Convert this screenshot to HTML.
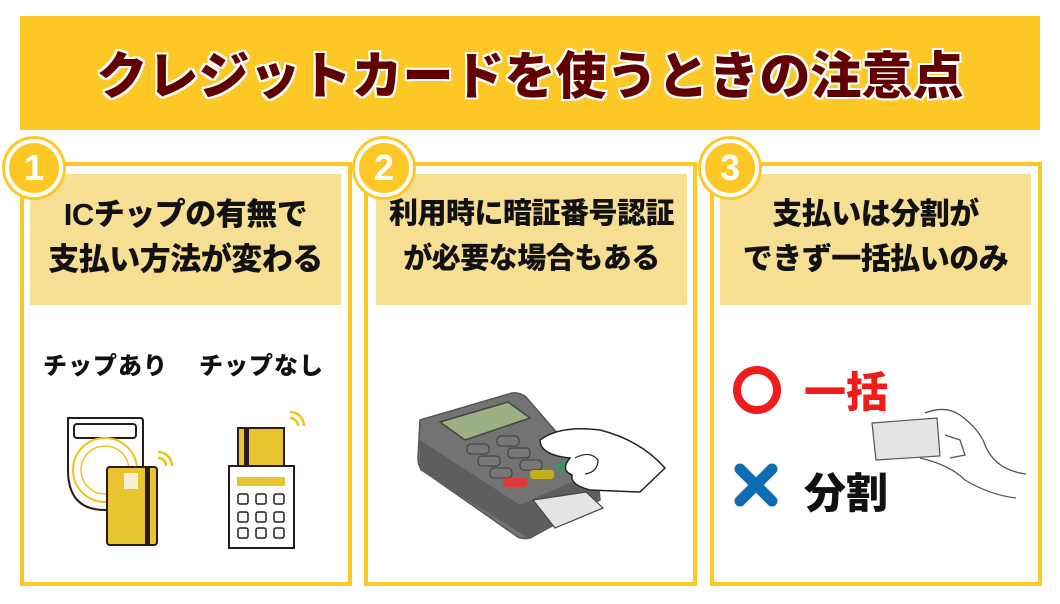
<!DOCTYPE html>
<html><head><meta charset="utf-8"><style>
*{margin:0;padding:0;box-sizing:border-box}
body{width:1060px;height:604px;background:#fff;position:relative;overflow:hidden;font-family:"Liberation Sans","Noto Sans CJK JP",sans-serif}
.hdr{position:absolute;left:20px;top:16px;width:1020px;height:114px;background:#fdc826}
.ttl{position:absolute;left:20px;top:42px;width:1020px;text-align:center;font-size:51px;line-height:70px;font-weight:900;color:#620000;text-shadow:0 0 2px #fff,2px 0 0 #fff,-2px 0 0 #fff,0 2px 0 #fff,0 -2px 0 #fff,2px 2px 0 #fff,-2px -2px 0 #fff,2px -2px 0 #fff,-2px 2px 0 #fff}
.pn{position:absolute;top:162px;height:424px;border:4px solid #fdc826}
.tan{position:absolute;top:174px;height:131px;background:#f6de93;display:flex;flex-direction:column;justify-content:center;align-items:center;text-align:center;font-weight:900;color:#111;line-height:45px;letter-spacing:-0.5px;padding-bottom:6px}
.bd{position:absolute;width:58px;height:58px;border-radius:50%;background:#fdc826;border:4px solid #fff;box-shadow:0 0 0 3px #fdc826;color:#fff;font-weight:900;font-size:36px;text-align:center;line-height:50px}
.lb{position:absolute;font-weight:900;font-size:24px;color:#111;letter-spacing:1px}
</style></head><body>
<div class="hdr"></div>
<div class="ttl">クレジットカードを使うときの注意点</div>

<div class="pn" style="left:20px;width:332px"></div>
<div class="pn" style="left:364px;width:333px"></div>
<div class="pn" style="left:710px;width:332px"></div>

<div class="tan" style="left:30px;width:311px;font-size:31px">ICチップの有無で<br>支払い方法が変わる</div>
<div class="tan" style="left:376px;width:311px;font-size:29px">利用時に暗証番号認証<br>が必要な場合もある</div>
<div class="tan" style="left:720px;width:311px;font-size:30px">支払いは分割が<br>できず一括払いのみ</div>

<div class="bd" style="left:5px;top:139px">1</div>
<div class="bd" style="left:355px;top:139px">2</div>
<div class="bd" style="left:701px;top:139px">3</div>

<div class="lb" style="left:43px;top:346px">チップあり</div>
<div class="lb" style="left:199px;top:346px">チップなし</div>

<svg style="position:absolute;left:0;top:0" width="1060" height="604">
<path d="M68 418 H140 Q143 418 143 421 V470 Q143 510 105 510 Q68 510 68 470 Z" fill="#fff" stroke="#2a1a1a" stroke-width="2"/>
<rect x="74" y="424" width="62" height="14" rx="3" fill="#fff" stroke="#2a1a1a" stroke-width="2"/>
<circle cx="105" cy="470" r="32" fill="none" stroke="#f0c21a" stroke-width="2"/>
<circle cx="105" cy="470" r="24" fill="none" stroke="#f0c21a" stroke-width="1.5"/>
<rect x="107" y="467" width="50" height="78" rx="3" fill="#e8c431" stroke="#2a1a1a" stroke-width="2"/>
<rect x="145" y="467" width="5" height="78" fill="#2a1a1a"/>
<rect x="124" y="473" width="14" height="16" fill="#f7efcf"/>
<path d="M158 458 a8 8 0 0 1 8 8 M158 452 a14 14 0 0 1 14 14" fill="none" stroke="#f0c21a" stroke-width="2.5"/>
<rect x="238" y="428" width="46" height="38" fill="#e8c431" stroke="#2a1a1a" stroke-width="2"/>
<rect x="244" y="428" width="5" height="38" fill="#2a1a1a"/>
<rect x="229" y="466" width="65" height="82" fill="#fff" stroke="#2a1a1a" stroke-width="2"/>
<rect x="237" y="477" width="48" height="9" fill="#e8c431"/>
<g fill="#fff" stroke="#2a1a1a" stroke-width="1.5">
<rect x="238" y="494" width="10" height="10" rx="2"/><rect x="256" y="494" width="10" height="10" rx="2"/><rect x="274" y="494" width="10" height="10" rx="2"/>
<rect x="238" y="512" width="10" height="10" rx="2"/><rect x="256" y="512" width="10" height="10" rx="2"/><rect x="274" y="512" width="10" height="10" rx="2"/>
<rect x="238" y="528" width="10" height="10" rx="2"/><rect x="256" y="528" width="10" height="10" rx="2"/><rect x="274" y="528" width="10" height="10" rx="2"/>
</g>
<path d="M290 418 a8 8 0 0 1 8 8 M290 412 a14 14 0 0 1 14 14" fill="none" stroke="#f0c21a" stroke-width="2.5"/>
<path d="M420 420 L512 393 Q520 392 526 397 L598 480 L600 500 L530 538 Q520 540 515 535 L422 470 Q418 466 418 458 Z" fill="#737373" stroke="#555" stroke-width="1.5"/>
<path d="M420 440 L520 505 L598 470 L598 500 L528 538 L420 470Z" fill="#5e5e5e"/>
<path d="M440 422 L508 402 L530 418 L465 440Z" fill="#9cb083" stroke="#444" stroke-width="1.5"/>
<g fill="#777" stroke="#444" stroke-width="1.2">
<rect x="467" y="444" width="22" height="10" rx="4"/><rect x="497" y="436" width="22" height="10" rx="4"/>
<rect x="478" y="456" width="22" height="10" rx="4"/><rect x="508" y="448" width="22" height="10" rx="4"/>
<rect x="490" y="468" width="22" height="10" rx="4"/><rect x="520" y="460" width="22" height="10" rx="4"/>
</g>
<rect x="503" y="478" width="24" height="9" rx="3" fill="#e03a3a"/>
<rect x="530" y="470" width="24" height="9" rx="3" fill="#c0b020"/>
<rect x="555" y="462" width="22" height="9" rx="3" fill="#4a8a64"/>
<path d="M533 500 L586 492 L603 508 L555 528Z" fill="#e4e4e4" stroke="#444" stroke-width="1.2"/>
<path d="M540 440 Q560 425 600 430 Q640 440 665 468 L640 492 L590 490 Q570 485 572 475 Q560 470 570 458 Q540 455 540 440Z" fill="#fff" stroke="#222" stroke-width="1.5"/>
<path d="M575 458 Q590 450 598 460 Q598 472 585 474" fill="none" stroke="#222" stroke-width="1.2"/>
<circle cx="757" cy="390" r="20" fill="none" stroke="#ef1c1c" stroke-width="8"/>
<path d="M740 469 L772 501 M772 469 L740 501" stroke="#0d6cb1" stroke-width="11" stroke-linecap="round"/>
<path d="M872 423 L937 418 L940 456 L876 460Z" fill="#e4e4e4" stroke="#555" stroke-width="1.2"/>
<path d="M925 413 Q945 405 960 415 Q980 430 985 445 Q995 470 1026 474 M920 458 Q950 465 965 480 Q990 495 1016 498 M945 435 L960 440 L965 455 L950 458" fill="none" stroke="#555" stroke-width="1.3"/>
</svg>
<div style="position:absolute;left:804px;top:368px;font-size:42px;line-height:50px;font-weight:900;color:#ef1c1c">一括</div>
<div style="position:absolute;left:804px;top:469px;font-size:42px;line-height:50px;font-weight:900;color:#111">分割</div>
</body></html>
